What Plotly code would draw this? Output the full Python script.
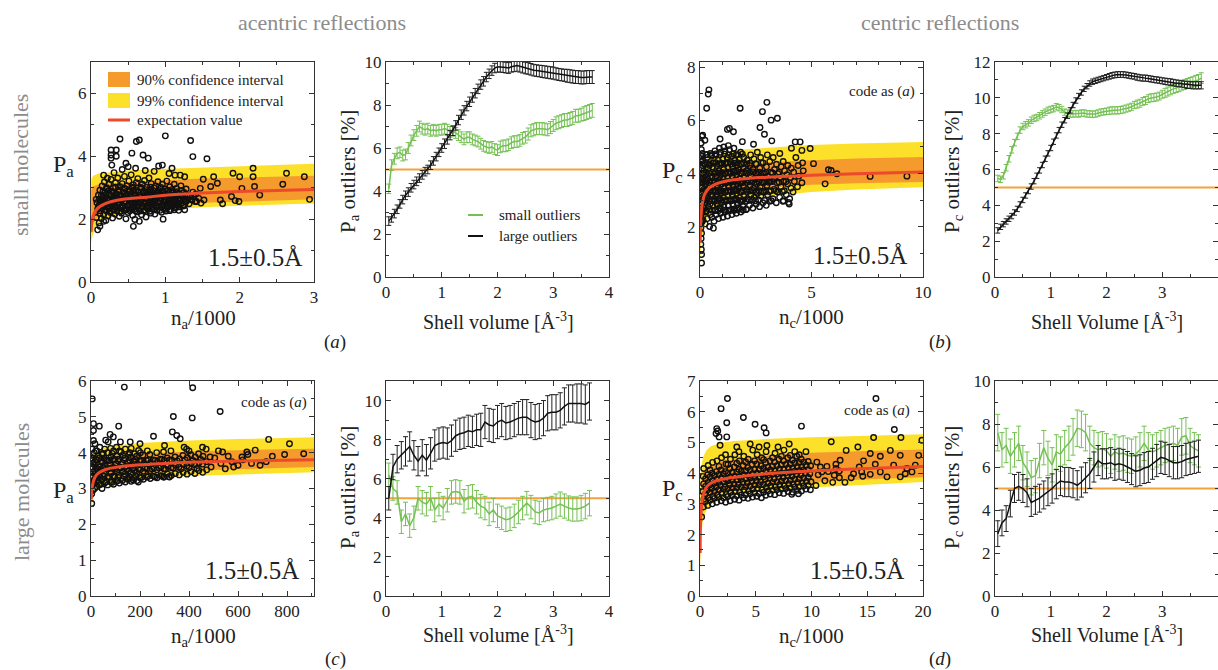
import plotly.graph_objects as go

W, H = 1218, 670
FONT = "Liberation Serif, Times New Roman, serif"
YELLOW = "#fde02a"
ORANGE = "#f59a2c"
RED = "#ec4a2a"
GREEN = "#74c053"
HLINE = "#f5a23a"
AXC = "#333333"

# ---------------- band / expectation data ----------------
A_BX = [0.003, 0.01, 0.03, 0.06, 0.1, 0.2, 0.35, 0.5, 0.75, 1.0, 1.5, 2.0, 2.5, 3.0]
A_EXP = [1.6, 1.9, 2.1, 2.25, 2.37, 2.5, 2.6, 2.65, 2.7, 2.76, 2.83, 2.88, 2.91, 2.94]
A_99U = [3.2, 3.3, 3.38, 3.42, 3.45, 3.48, 3.52, 3.55, 3.58, 3.6, 3.65, 3.69, 3.72, 3.76]
A_99L = [1.2, 1.35, 1.55, 1.72, 1.85, 2.02, 2.14, 2.2, 2.27, 2.32, 2.38, 2.43, 2.47, 2.5]
A_90U = [2.9, 3.0, 3.05, 3.08, 3.1, 3.13, 3.16, 3.18, 3.21, 3.24, 3.29, 3.32, 3.35, 3.38]
A_90L = [1.5, 1.7, 1.85, 1.98, 2.08, 2.2, 2.3, 2.36, 2.42, 2.46, 2.52, 2.56, 2.6, 2.63]

B_BX = [0.005, 0.02, 0.05, 0.1, 0.2, 0.4, 0.7, 1, 1.5, 2, 3, 5, 7, 10]
B_EXP = [1.4, 1.9, 2.45, 2.85, 3.2, 3.45, 3.6, 3.68, 3.76, 3.8, 3.86, 3.93, 3.99, 4.06]
B_99U = [3.4, 3.8, 4.1, 4.3, 4.45, 4.6, 4.7, 4.77, 4.85, 4.9, 4.97, 5.07, 5.13, 5.19]
B_99L = [0.5, 0.9, 1.3, 1.65, 2.0, 2.4, 2.7, 2.85, 3.0, 3.08, 3.17, 3.3, 3.4, 3.48]
B_90U = [2.5, 3.0, 3.3, 3.55, 3.75, 3.95, 4.1, 4.18, 4.28, 4.34, 4.42, 4.5, 4.56, 4.62]
B_90L = [0.9, 1.4, 1.8, 2.1, 2.45, 2.8, 3.05, 3.17, 3.3, 3.37, 3.46, 3.58, 3.63, 3.68]

C_BX = [1, 5, 15, 30, 60, 100, 200, 300, 400, 600, 910]
C_EXP = [2.7, 3.05, 3.3, 3.43, 3.53, 3.59, 3.66, 3.7, 3.73, 3.77, 3.8]
C_99U = [3.6, 3.85, 4.0, 4.08, 4.15, 4.2, 4.27, 4.31, 4.34, 4.38, 4.43]
C_99L = [2.3, 2.6, 2.85, 3.0, 3.1, 3.17, 3.26, 3.31, 3.35, 3.4, 3.45]
C_90U = [3.2, 3.5, 3.7, 3.8, 3.87, 3.92, 3.98, 4.01, 4.03, 4.07, 4.11]
C_90L = [2.5, 2.8, 3.05, 3.18, 3.28, 3.34, 3.42, 3.47, 3.5, 3.55, 3.6]

D_BX = [0.02, 0.1, 0.3, 0.6, 1, 2, 3, 5, 7.5, 10, 15, 20]
D_EXP = [1.4, 2.8, 3.3, 3.55, 3.68, 3.8, 3.86, 3.95, 4.02, 4.07, 4.15, 4.22]
D_99U = [3.7, 4.2, 4.55, 4.75, 4.88, 5.0, 5.05, 5.1, 5.14, 5.17, 5.22, 5.27]
D_99L = [0.8, 2.0, 2.55, 2.8, 3.0, 3.18, 3.27, 3.38, 3.47, 3.53, 3.63, 3.71]
D_90U = [2.6, 3.6, 4.0, 4.15, 4.25, 4.38, 4.45, 4.54, 4.61, 4.66, 4.72, 4.77]
D_90L = [1.0, 2.3, 2.8, 3.05, 3.2, 3.38, 3.47, 3.57, 3.65, 3.7, 3.8, 3.87]

# ---------------- scatter points (n/1000, P) ----------------
A_PTS = [
    (0.39, 4.55), (0.61, 4.47), (0.65, 4.52), (1.00, 4.65), (1.34, 4.50), (1.37, 3.99), (1.56, 3.92),
    (0.27, 4.20), (0.34, 4.20), (0.27, 4.04), (0.34, 4.00), (0.27, 3.94), (0.28, 3.72), (0.17, 3.40),
    (0.55, 4.10), (0.70, 4.04), (0.77, 3.94), (0.47, 3.78), (0.50, 3.67), (0.91, 3.69), (0.96, 3.72),
    (1.09, 3.62), (1.13, 3.40), (1.20, 3.40), (1.26, 3.35), (0.07, 2.63), (0.09, 1.66), (0.12, 1.77),
    (0.17, 1.93), (0.57, 1.77), (0.65, 1.93), (0.97, 2.00), (1.26, 2.30),
    (1.38, 2.72), (1.47, 2.98), (1.52, 2.61), (1.65, 3.35), (1.70, 3.14), (1.74, 2.61), (1.77, 2.49),
    (1.89, 2.72), (1.91, 3.46), (1.94, 2.59), (1.99, 2.56), (2.00, 3.35), (2.03, 2.98), (2.18, 3.62),
    (2.18, 3.35), (2.20, 3.04), (2.27, 2.77), (2.58, 3.11), (2.63, 3.46), (2.94, 2.63), (2.87, 3.35),
    (1.51, 3.27), (1.61, 3.04), (1.42, 2.56), (1.48, 2.51),
    (0.42, 3.58), (0.60, 3.62), (0.73, 3.55), (0.85, 3.52), (0.31, 3.48), (1.05, 3.45), (0.22, 3.30),
    (0.07, 2.05), (0.09, 2.32), (0.08, 2.52), (0.10, 2.76),
    (0.11, 1.88), (0.12, 2.18), (0.11, 2.44), (0.13, 2.63), (0.12, 2.92),
    (0.14, 2.02), (0.15, 2.36), (0.14, 2.56), (0.16, 2.71), (0.15, 3.06),
    (0.17, 2.14), (0.18, 2.41), (0.17, 2.61), (0.19, 2.86), (0.18, 3.18),
    (0.20, 1.96), (0.21, 2.26), (0.20, 2.49), (0.22, 2.67), (0.21, 2.96),
    (0.23, 2.11), (0.24, 2.34), (0.23, 2.58), (0.25, 2.79), (0.24, 3.11),
    (0.26, 2.21), (0.27, 2.46), (0.26, 2.64), (0.28, 2.88), (0.27, 3.26),
    (0.29, 2.04), (0.30, 2.31), (0.29, 2.53), (0.31, 2.73), (0.30, 2.99),
    (0.32, 2.16), (0.33, 2.39), (0.32, 2.61), (0.34, 2.81), (0.33, 3.16),
    (0.35, 2.26), (0.36, 2.48), (0.35, 2.69), (0.37, 2.93), (0.36, 3.31),
    (0.38, 2.09), (0.39, 2.37), (0.38, 2.55), (0.40, 2.76), (0.39, 3.03),
    (0.41, 2.19), (0.42, 2.43), (0.41, 2.62), (0.43, 2.86), (0.42, 3.13),
    (0.44, 2.29), (0.45, 2.51), (0.44, 2.71), (0.46, 2.96), (0.45, 3.36),
    (0.47, 2.01), (0.48, 2.34), (0.47, 2.57), (0.49, 2.79), (0.48, 3.06),
    (0.50, 2.21), (0.51, 2.45), (0.50, 2.66), (0.52, 2.89), (0.51, 3.21),
    (0.53, 2.31), (0.54, 2.53), (0.53, 2.73), (0.55, 2.99), (0.54, 3.41),
    (0.56, 2.12), (0.57, 2.38), (0.56, 2.61), (0.58, 2.81), (0.57, 3.09),
    (0.59, 1.99), (0.60, 2.27), (0.59, 2.49), (0.61, 2.69), (0.60, 2.91), (0.61, 3.16),
    (0.62, 2.23), (0.63, 2.46), (0.62, 2.67), (0.64, 2.87), (0.63, 3.29),
    (0.65, 2.36), (0.66, 2.56), (0.65, 2.76), (0.67, 3.01),
    (0.68, 2.14), (0.69, 2.41), (0.68, 2.63), (0.70, 2.84), (0.69, 3.11),
    (0.71, 2.26), (0.72, 2.49), (0.71, 2.71), (0.73, 2.94), (0.72, 3.23),
    (0.74, 2.07), (0.75, 2.36), (0.74, 2.58), (0.76, 2.79), (0.75, 3.01),
    (0.77, 2.31), (0.78, 2.52), (0.77, 2.73), (0.79, 2.91), (0.78, 3.31),
    (0.80, 2.19), (0.81, 2.44), (0.80, 2.66), (0.82, 2.86), (0.81, 3.13),
    (0.83, 2.33), (0.84, 2.56), (0.83, 2.77), (0.85, 2.99),
    (0.86, 2.16), (0.87, 2.41), (0.86, 2.62), (0.88, 2.83), (0.87, 3.06),
    (0.89, 2.28), (0.90, 2.51), (0.89, 2.71), (0.91, 2.91), (0.90, 3.19),
    (0.92, 2.39), (0.93, 2.58), (0.92, 2.79), (0.94, 3.01),
    (0.95, 2.22), (0.96, 2.46), (0.95, 2.66), (0.97, 2.87), (0.96, 3.11),
    (0.98, 2.34), (0.99, 2.54), (0.98, 2.75), (1.00, 2.96),
    (1.01, 2.26), (1.02, 2.48), (1.01, 2.71), (1.03, 2.91), (1.02, 3.21),
    (1.04, 2.41), (1.05, 2.61), (1.04, 2.81), (1.06, 3.03),
    (1.07, 2.31), (1.08, 2.53), (1.07, 2.74), (1.09, 2.94),
    (1.10, 2.43), (1.11, 2.63), (1.10, 2.83), (1.12, 3.11),
    (1.13, 2.36), (1.14, 2.57), (1.13, 2.78), (1.15, 2.98),
    (1.16, 2.46), (1.17, 2.66), (1.16, 2.87),
    (1.19, 2.39), (1.20, 2.61), (1.19, 2.81), (1.21, 3.06),
    (1.22, 2.51), (1.23, 2.71), (1.22, 2.91),
    (1.25, 2.43), (1.26, 2.65), (1.25, 2.85),
    (1.28, 2.56), (1.29, 2.76), (1.28, 2.96),
    (1.32, 2.49), (1.33, 2.71), (1.36, 2.61), (1.37, 2.86),
    (1.40, 2.56), (1.41, 2.79), (1.45, 2.66),
]
A_CORE = [
    (0.12, 2.27), (0.19, 2.30), (0.25, 2.26), (0.31, 2.29), (0.40, 2.25), (0.46, 2.30), (0.52, 2.27),
    (0.58, 2.31), (0.66, 2.26), (0.73, 2.29), (0.79, 2.25), (0.85, 2.30), (0.93, 2.28), (0.99, 2.31),
    (1.06, 2.27), (1.12, 2.30), (1.18, 2.28),
    (0.10, 2.39), (0.16, 2.42), (0.22, 2.38), (0.28, 2.41), (0.34, 2.37), (0.43, 2.40), (0.49, 2.43),
    (0.55, 2.38), (0.61, 2.41), (0.70, 2.39), (0.76, 2.42), (0.82, 2.37), (0.88, 2.40), (0.96, 2.43),
    (1.03, 2.38), (1.09, 2.41), (1.15, 2.39), (1.24, 2.42),
    (0.13, 2.51), (0.18, 2.54), (0.24, 2.50), (0.30, 2.53), (0.37, 2.49), (0.45, 2.52), (0.52, 2.55),
    (0.58, 2.50), (0.64, 2.53), (0.71, 2.51), (0.78, 2.54), (0.84, 2.49), (0.91, 2.52), (0.97, 2.55),
    (1.05, 2.50), (1.11, 2.53), (1.18, 2.51), (1.27, 2.54),
    (0.11, 2.63), (0.17, 2.66), (0.23, 2.62), (0.29, 2.65), (0.36, 2.61), (0.42, 2.64), (0.48, 2.67),
    (0.55, 2.62), (0.62, 2.65), (0.68, 2.63), (0.75, 2.66), (0.81, 2.61), (0.88, 2.64), (0.94, 2.67),
    (1.00, 2.62), (1.08, 2.65), (1.14, 2.63), (1.21, 2.66), (1.30, 2.62),
    (0.14, 2.75), (0.20, 2.78), (0.27, 2.74), (0.33, 2.77), (0.40, 2.73), (0.47, 2.76), (0.53, 2.79),
    (0.60, 2.74), (0.66, 2.77), (0.72, 2.75), (0.79, 2.78), (0.86, 2.73), (0.92, 2.76), (0.99, 2.79),
    (1.06, 2.74), (1.13, 2.77), (1.20, 2.75),
    (0.16, 2.87), (0.23, 2.90), (0.30, 2.86), (0.38, 2.89), (0.44, 2.85), (0.51, 2.88), (0.57, 2.91),
    (0.64, 2.86), (0.71, 2.89), (0.77, 2.87), (0.84, 2.90), (0.90, 2.85), (0.97, 2.88), (1.04, 2.91),
    (1.11, 2.86),
    (0.21, 3.00), (0.33, 3.02), (0.45, 2.98), (0.56, 3.01), (0.68, 2.99), (0.80, 3.02), (0.93, 2.98),
]

B_PTS = [
    (0.40, 7.15), (0.37, 6.99), (0.30, 6.46), (1.80, 6.46), (3.00, 6.68), (2.80, 6.33), (3.19, 6.01),
    (3.47, 6.08), (2.69, 5.73), (2.89, 5.48), (0.12, 5.44), (0.22, 5.25), (1.32, 5.70), (1.50, 5.57),
    (1.23, 5.66), (3.22, 5.23), (4.27, 5.19), (4.49, 5.19), (4.94, 4.94), (4.57, 4.87), (5.09, 4.37),
    (5.76, 4.14), (5.88, 4.11), (6.14, 3.99), (7.63, 3.89), (9.28, 3.90), (5.61, 3.61), (3.74, 2.97),
    (3.97, 2.91), (0.60, 1.94), (0.07, 0.95), (0.07, 0.63), (0.04, 1.33), (0.06, 1.14),
    (4.10, 4.95), (4.30, 4.60), (4.60, 4.40), (4.00, 2.85), (0.90, 5.30), (1.90, 5.20), (2.40, 5.10),
    (0.05, 1.55), (0.07, 1.75), (0.04, 1.95), (0.06, 2.15), (0.03, 2.35), (0.08, 2.50), (0.05, 2.70),
    (0.07, 2.90), (0.04, 3.10), (0.09, 3.25), (0.06, 3.45), (0.03, 3.65), (0.08, 3.80), (0.05, 4.00),
    (0.07, 4.20), (0.04, 4.45), (0.09, 4.65), (0.06, 4.90), (0.05, 5.15), (0.08, 5.40), (0.10, 2.20),
    (0.11, 2.60), (0.12, 3.00), (0.10, 3.50), (0.12, 3.90), (0.11, 4.30), (0.10, 4.75),
    (0.13, 2.25), (0.17, 2.70), (0.15, 3.05), (0.18, 3.40), (0.14, 3.75), (0.16, 4.10), (0.12, 4.50),
    (0.23, 2.10), (0.27, 2.55), (0.25, 2.90), (0.28, 3.25), (0.24, 3.60), (0.26, 3.95), (0.22, 4.35), (0.27, 4.70),
    (0.33, 2.30), (0.37, 2.75), (0.35, 3.10), (0.38, 3.45), (0.34, 3.80), (0.36, 4.20), (0.32, 4.60),
    (0.43, 2.00), (0.47, 2.45), (0.45, 2.85), (0.48, 3.20), (0.44, 3.55), (0.46, 3.90), (0.42, 4.30), (0.47, 4.75),
    (0.53, 2.35), (0.57, 2.80), (0.55, 3.15), (0.58, 3.50), (0.54, 3.85), (0.56, 4.25), (0.52, 4.65),
    (0.63, 2.20), (0.67, 2.60), (0.65, 2.95), (0.68, 3.30), (0.64, 3.65), (0.66, 4.00), (0.62, 4.40), (0.67, 4.85),
    (0.73, 2.45), (0.77, 2.85), (0.75, 3.20), (0.78, 3.55), (0.74, 3.90), (0.76, 4.30), (0.72, 4.70),
    (0.83, 2.30), (0.87, 2.70), (0.85, 3.05), (0.88, 3.40), (0.84, 3.75), (0.86, 4.10), (0.82, 4.50), (0.87, 4.95),
    (0.93, 2.50), (0.97, 2.90), (0.95, 3.25), (0.98, 3.60), (0.94, 3.95), (0.96, 4.35), (0.92, 4.80),
    (1.03, 2.35), (1.07, 2.75), (1.05, 3.10), (1.08, 3.45), (1.04, 3.80), (1.06, 4.15), (1.02, 4.55), (1.07, 5.00),
    (1.13, 2.55), (1.17, 2.95), (1.15, 3.30), (1.18, 3.65), (1.14, 4.00), (1.16, 4.40), (1.12, 4.85),
    (1.23, 2.40), (1.27, 2.80), (1.25, 3.15), (1.28, 3.50), (1.24, 3.85), (1.26, 4.20), (1.22, 4.60), (1.27, 5.05),
    (1.33, 2.60), (1.37, 3.00), (1.35, 3.35), (1.38, 3.70), (1.34, 4.05), (1.36, 4.45), (1.32, 4.90),
    (1.43, 2.45), (1.47, 2.85), (1.45, 3.20), (1.48, 3.55), (1.44, 3.90), (1.46, 4.25), (1.42, 4.65),
    (1.53, 2.65), (1.57, 3.05), (1.55, 3.40), (1.58, 3.75), (1.54, 4.10), (1.56, 4.50), (1.52, 4.95),
    (1.63, 2.50), (1.67, 2.90), (1.65, 3.25), (1.68, 3.60), (1.64, 3.95), (1.66, 4.30), (1.62, 4.70),
    (1.73, 2.70), (1.77, 3.10), (1.75, 3.45), (1.78, 3.80), (1.74, 4.15), (1.76, 4.55),
    (1.83, 2.55), (1.87, 2.95), (1.85, 3.30), (1.88, 3.65), (1.84, 4.00), (1.86, 4.35), (1.82, 4.80),
    (1.93, 2.75), (1.97, 3.15), (1.95, 3.50), (1.98, 3.85), (1.94, 4.20), (1.96, 4.60),
    (2.07, 2.65), (2.13, 3.05), (2.10, 3.40), (2.14, 3.75), (2.08, 4.10), (2.12, 4.50),
    (2.22, 2.80), (2.28, 3.20), (2.25, 3.55), (2.29, 3.90), (2.23, 4.30), (2.27, 4.70),
    (2.37, 2.70), (2.43, 3.10), (2.40, 3.45), (2.44, 3.80), (2.38, 4.15), (2.42, 4.55),
    (2.52, 2.85), (2.58, 3.25), (2.55, 3.60), (2.59, 3.95), (2.53, 4.35), (2.57, 4.80),
    (2.67, 2.75), (2.73, 3.15), (2.70, 3.50), (2.74, 3.85), (2.68, 4.20), (2.72, 4.60),
    (2.82, 2.90), (2.88, 3.30), (2.85, 3.65), (2.89, 4.00), (2.83, 4.40),
    (2.97, 2.80), (3.03, 3.20), (3.00, 3.55), (3.04, 3.90), (2.98, 4.25), (3.02, 4.70),
    (3.12, 2.95), (3.18, 3.35), (3.15, 3.70), (3.19, 4.05), (3.13, 4.45),
    (3.27, 3.05), (3.33, 3.40), (3.30, 3.80), (3.34, 4.15), (3.28, 4.60),
    (3.42, 2.90), (3.48, 3.30), (3.45, 3.65), (3.49, 4.00), (3.43, 4.35),
    (3.57, 3.10), (3.63, 3.50), (3.60, 3.85), (3.64, 4.25), (3.58, 4.75),
    (3.72, 2.95), (3.78, 3.35), (3.75, 3.70), (3.79, 4.10), (3.73, 4.45),
    (3.87, 3.20), (3.93, 3.60), (3.90, 3.95), (3.94, 4.30),
    (4.02, 3.05), (4.08, 3.45), (4.05, 3.85), (4.09, 4.20),
    (4.17, 3.30), (4.23, 3.70), (4.20, 4.05), (4.37, 3.50), (4.43, 3.90), (4.40, 4.30),
    (4.57, 3.65), (4.63, 4.10),
]
B_CORE = [
    (0.28, 2.60), (0.41, 2.64), (0.55, 2.61), (0.69, 2.63), (0.82, 2.60), (0.96, 2.65), (1.10, 2.62),
    (1.24, 2.60), (1.38, 2.64), (1.52, 2.61), (1.66, 2.63), (1.80, 2.66), (1.94, 2.62), (2.08, 2.64),
    (0.14, 2.97), (0.27, 3.00), (0.40, 2.96), (0.54, 2.99), (0.68, 3.01), (0.81, 2.96), (0.95, 2.99),
    (1.09, 2.97), (1.23, 3.00), (1.37, 2.96), (1.51, 2.99), (1.65, 3.01), (1.79, 2.97), (1.93, 3.00),
    (2.07, 2.96), (2.21, 2.99), (2.35, 3.01), (2.49, 2.97), (2.63, 3.00), (2.90, 2.98), (3.20, 2.97),
    (0.15, 3.32), (0.29, 3.35), (0.42, 3.31), (0.56, 3.34), (0.70, 3.36), (0.83, 3.31), (0.97, 3.34),
    (1.11, 3.32), (1.25, 3.35), (1.39, 3.31), (1.53, 3.34), (1.67, 3.36), (1.81, 3.32), (1.95, 3.35),
    (2.09, 3.31), (2.23, 3.34), (2.37, 3.36), (2.51, 3.32), (2.65, 3.35), (2.80, 3.31), (2.95, 3.34),
    (3.10, 3.32), (3.40, 3.35), (3.70, 3.32),
    (0.13, 3.67), (0.27, 3.70), (0.41, 3.66), (0.55, 3.69), (0.69, 3.71), (0.82, 3.66), (0.96, 3.69),
    (1.10, 3.67), (1.24, 3.70), (1.38, 3.66), (1.52, 3.69), (1.66, 3.71), (1.80, 3.67), (1.94, 3.70),
    (2.08, 3.66), (2.22, 3.69), (2.36, 3.71), (2.50, 3.67), (2.64, 3.70), (2.79, 3.66), (2.94, 3.69),
    (3.09, 3.67), (3.25, 3.70), (3.55, 3.67), (3.85, 3.69),
    (0.14, 4.02), (0.28, 4.05), (0.42, 4.01), (0.56, 4.04), (0.70, 4.06), (0.83, 4.01), (0.97, 4.04),
    (1.11, 4.02), (1.25, 4.05), (1.39, 4.01), (1.53, 4.04), (1.67, 4.06), (1.81, 4.02), (1.95, 4.05),
    (2.09, 4.01), (2.23, 4.04), (2.37, 4.06), (2.51, 4.02), (2.65, 4.05), (2.80, 4.01), (2.95, 4.04),
    (3.25, 4.02), (3.55, 4.05),
    (0.15, 4.37), (0.29, 4.40), (0.43, 4.36), (0.57, 4.39), (0.71, 4.41), (0.84, 4.36), (0.98, 4.39),
    (1.12, 4.37), (1.26, 4.40), (1.40, 4.36), (1.54, 4.39), (1.68, 4.41), (1.82, 4.37), (1.96, 4.40),
    (2.10, 4.36), (2.24, 4.39), (2.50, 4.37), (2.75, 4.40),
    (0.30, 4.72), (0.50, 4.70), (0.70, 4.74), (0.90, 4.71), (1.10, 4.73), (1.30, 4.70), (1.50, 4.74),
    (1.70, 4.71), (1.90, 4.73),
]

C_PTS = [
    (5, 5.50), (136, 5.83), (415, 5.81), (527, 5.15), (413, 4.97), (336, 5.01), (34, 4.74), (113, 4.74),
    (78, 4.51), (91, 4.44), (332, 4.58), (350, 4.48), (364, 4.39), (255, 4.46), (10, 4.81), (10, 4.62),
    (10, 4.34), (725, 4.37), (810, 4.25), (868, 3.97), (690, 3.65), (582, 3.60), (616, 3.88), (670, 4.07),
    (636, 4.02), (537, 4.02), (486, 3.88), (296, 3.32), (320, 3.32), (173, 3.23), (193, 3.18), (3, 2.58),
    (490, 3.60), (505, 3.85), (520, 4.05), (530, 3.70), (548, 3.55), (560, 3.90), (575, 3.75), (600, 3.65),
    (620, 3.80), (640, 3.95), (655, 3.70), (715, 3.75), (740, 3.90), (790, 3.95), (455, 4.15), (470, 4.10),
    (380, 4.15), (300, 4.20), (160, 4.30), (120, 4.30), (60, 4.35), (200, 4.25), (400, 4.05),
    (3, 2.85), (4, 3.10), (2, 3.35), (5, 3.60), (3, 3.85), (4, 4.10),
    (8, 2.95), (9, 3.20), (7, 3.45), (8, 3.70), (9, 3.95),
    (15, 3.00), (14, 3.25), (16, 3.50), (15, 3.75), (13, 4.00), (16, 4.25),
    (24, 3.05), (25, 3.30), (23, 3.55), (26, 3.80), (24, 4.05),
    (34, 3.10), (33, 3.35), (35, 3.60), (34, 3.85), (36, 4.15),
    (45, 3.00), (46, 3.25), (44, 3.50), (47, 3.72), (45, 3.95),
    (56, 3.15), (55, 3.40), (57, 3.62), (54, 3.85), (56, 4.10),
    (68, 3.10), (67, 3.32), (69, 3.55), (66, 3.78), (68, 4.00), (70, 4.30),
    (80, 3.18), (81, 3.42), (79, 3.65), (82, 3.88), (80, 4.12),
    (92, 3.12), (91, 3.35), (93, 3.58), (90, 3.80), (92, 4.05),
    (104, 3.20), (105, 3.45), (103, 3.68), (106, 3.90), (104, 4.15),
    (116, 3.15), (115, 3.38), (117, 3.60), (114, 3.82), (116, 4.05),
    (128, 3.22), (129, 3.46), (127, 3.70), (130, 3.92),
    (140, 3.18), (139, 3.40), (141, 3.62), (138, 3.85), (140, 4.10),
    (152, 3.25), (153, 3.48), (151, 3.72), (154, 3.95),
    (164, 3.20), (163, 3.42), (165, 3.65), (162, 3.88), (164, 4.12),
    (176, 3.28), (177, 3.50), (175, 3.74), (178, 3.97),
    (188, 3.22), (187, 3.45), (189, 3.68), (186, 3.90),
    (200, 3.30), (201, 3.52), (199, 3.76), (202, 4.00),
    (214, 3.26), (213, 3.48), (215, 3.70), (212, 3.93),
    (228, 3.32), (229, 3.55), (227, 3.78), (230, 4.05),
    (242, 3.28), (241, 3.50), (243, 3.72), (240, 3.95),
    (256, 3.34), (257, 3.57), (255, 3.80),
    (270, 3.30), (269, 3.52), (271, 3.75), (268, 4.00),
    (284, 3.36), (285, 3.60), (283, 3.82),
    (298, 3.32), (297, 3.55), (299, 3.78), (296, 4.02),
    (312, 3.40), (313, 3.62), (311, 3.85),
    (328, 3.36), (327, 3.58), (329, 3.80), (326, 4.05),
    (344, 3.42), (345, 3.65), (343, 3.88),
    (360, 3.38), (359, 3.60), (361, 3.83),
    (376, 3.45), (377, 3.68), (375, 3.92),
    (392, 3.40), (391, 3.63), (393, 3.86), (390, 4.10),
    (408, 3.47), (409, 3.70), (407, 3.94),
    (424, 3.42), (423, 3.66), (425, 3.88),
    (440, 3.50), (441, 3.72), (439, 3.97),
    (456, 3.45), (455, 3.68), (457, 3.90),
    (472, 3.52), (471, 3.75),
]
C_CORE = [
    (6, 3.32), (20, 3.35), (38, 3.31), (52, 3.34), (74, 3.33), (96, 3.35), (110, 3.31), (134, 3.34),
    (158, 3.32), (182, 3.35), (206, 3.31), (234, 3.34), (262, 3.32), (290, 3.35), (318, 3.33),
    (4, 3.55), (19, 3.58), (30, 3.54), (50, 3.57), (62, 3.55), (86, 3.58), (98, 3.54), (122, 3.57),
    (146, 3.55), (170, 3.58), (194, 3.54), (220, 3.57), (248, 3.55), (276, 3.58), (304, 3.54),
    (336, 3.57), (368, 3.55), (400, 3.58), (432, 3.56),
    (6, 3.78), (20, 3.81), (40, 3.77), (60, 3.80), (74, 3.78), (98, 3.81), (110, 3.77), (134, 3.80),
    (158, 3.78), (182, 3.81), (206, 3.77), (234, 3.80), (262, 3.78), (290, 3.81), (320, 3.79),
    (352, 3.77), (384, 3.80), (416, 3.78), (448, 3.81),
    (12, 3.15), (28, 3.18), (40, 3.12), (62, 3.19), (86, 3.17), (110, 3.22), (146, 3.27),
    (20, 4.05), (50, 3.98), (86, 3.98), (122, 4.02), (158, 4.00), (194, 4.06),
]

D_PTS = [
    (2.46, 6.43), (1.89, 6.10), (3.89, 5.81), (4.94, 5.59), (5.75, 5.48), (5.93, 5.31), (2.40, 5.64),
    (2.40, 5.18), (1.50, 5.45), (1.59, 5.37), (1.44, 5.29), (1.71, 5.18), (1.80, 4.91), (9.10, 5.53),
    (15.78, 6.43), (17.43, 5.42), (18.02, 5.16), (11.77, 5.02), (15.57, 5.16), (19.90, 5.07), (0.15, 2.57),
    (8.23, 3.31), (8.83, 3.33),
    (12.57, 4.42), (13.77, 3.98), (14.50, 4.04), (15.27, 3.96), (16.17, 4.04), (16.77, 3.88), (17.37, 4.26),
    (17.96, 4.58), (18.56, 4.15), (19.31, 4.26), (19.61, 4.58), (13.11, 4.74), (14.16, 4.85), (15.27, 4.64),
    (16.17, 4.55), (17.07, 4.74), (13.56, 3.85), (14.28, 4.20), (12.49, 4.07), (12.04, 3.93), (11.38, 4.22),
    (10.93, 4.04), (10.48, 4.36), (12.19, 4.29), (14.67, 4.40), (15.72, 4.29), (18.41, 3.98), (19.01, 4.04),
    (17.96, 3.88), (10.4, 3.60), (10.6, 3.95), (10.8, 4.20), (11.2, 3.75), (11.5, 4.05), (11.9, 3.70),
    (12.2, 4.15), (12.5, 3.85), (13.0, 3.70), (14.6, 3.90),
    (3.3, 4.85), (4.5, 4.95), (6.0, 4.90), (7.0, 4.85), (8.0, 4.95), (8.5, 4.70), (5.3, 4.85), (9.5, 4.70),
    (0.3, 2.90), (0.35, 3.15), (0.25, 3.40), (0.32, 3.65), (0.28, 3.90), (0.33, 4.15),
    (0.7, 2.95), (0.75, 3.20), (0.65, 3.45), (0.72, 3.70), (0.68, 3.95), (0.73, 4.25),
    (1.1, 3.00), (1.15, 3.25), (1.05, 3.50), (1.12, 3.75), (1.08, 4.00), (1.13, 4.35),
    (1.5, 3.05), (1.55, 3.30), (1.45, 3.55), (1.52, 3.80), (1.48, 4.05), (1.53, 4.40),
    (1.9, 3.10), (1.95, 3.35), (1.85, 3.60), (1.92, 3.85), (1.88, 4.10), (1.93, 4.50),
    (2.3, 3.05), (2.35, 3.30), (2.25, 3.55), (2.32, 3.80), (2.28, 4.05), (2.33, 4.30), (2.29, 4.60),
    (2.7, 3.10), (2.75, 3.38), (2.65, 3.62), (2.72, 3.88), (2.68, 4.15), (2.73, 4.45),
    (3.1, 3.15), (3.15, 3.40), (3.05, 3.65), (3.12, 3.90), (3.08, 4.20), (3.13, 4.60),
    (3.5, 3.12), (3.55, 3.38), (3.45, 3.63), (3.52, 3.88), (3.48, 4.12), (3.53, 4.40), (3.49, 4.70),
    (3.9, 3.20), (3.95, 3.45), (3.85, 3.70), (3.92, 3.95), (3.88, 4.25), (3.93, 4.55),
    (4.3, 3.18), (4.35, 3.42), (4.25, 3.68), (4.32, 3.93), (4.28, 4.18), (4.33, 4.45),
    (4.7, 3.22), (4.75, 3.48), (4.65, 3.73), (4.72, 3.98), (4.68, 4.28), (4.73, 4.75),
    (5.1, 3.25), (5.15, 3.50), (5.05, 3.75), (5.12, 4.00), (5.08, 4.30), (5.13, 4.60),
    (5.5, 3.20), (5.55, 3.46), (5.45, 3.72), (5.52, 3.98), (5.48, 4.24), (5.53, 4.50),
    (5.9, 3.28), (5.95, 3.54), (5.85, 3.80), (5.92, 4.06), (5.88, 4.35), (5.93, 4.70),
    (6.3, 3.32), (6.35, 3.58), (6.25, 3.84), (6.32, 4.10), (6.28, 4.40),
    (6.7, 3.30), (6.75, 3.56), (6.65, 3.82), (6.72, 4.08), (6.68, 4.36), (6.73, 4.65),
    (7.1, 3.36), (7.15, 3.62), (7.05, 3.88), (7.12, 4.14), (7.08, 4.45),
    (7.5, 3.34), (7.55, 3.60), (7.45, 3.86), (7.52, 4.12), (7.48, 4.40), (7.53, 4.75),
    (7.9, 3.40), (7.95, 3.66), (7.85, 3.92), (7.92, 4.18), (7.88, 4.50),
    (8.3, 3.38), (8.35, 3.64), (8.25, 3.90), (8.32, 4.16), (8.28, 4.42),
    (8.7, 3.44), (8.75, 3.70), (8.65, 3.96), (8.72, 4.22), (8.68, 4.55),
    (9.1, 3.42), (9.15, 3.68), (9.05, 3.94), (9.12, 4.20), (9.08, 4.45),
    (9.5, 3.48), (9.55, 3.74), (9.45, 4.00), (9.52, 4.26),
    (9.9, 3.46), (9.95, 3.72), (9.85, 3.98), (9.92, 4.24),
]
D_CORE = [
    (0.5, 3.08), (0.9, 3.12), (1.3, 3.18), (1.7, 3.22), (2.1, 3.20), (2.5, 3.24), (2.9, 3.27), (3.3, 3.26),
    (3.7, 3.29), (4.1, 3.30), (4.5, 3.33), (4.9, 3.36), (5.3, 3.34), (5.7, 3.38), (6.1, 3.42), (6.5, 3.44),
    (6.9, 3.46), (7.3, 3.48), (7.7, 3.50), (8.1, 3.52), (8.5, 3.55), (8.9, 3.56), (9.3, 3.58), (9.7, 3.60),
    (0.5, 3.32), (0.9, 3.37), (1.3, 3.42), (1.7, 3.46), (2.1, 3.48), (2.5, 3.50), (2.9, 3.52), (3.3, 3.53),
    (3.7, 3.55), (4.1, 3.56), (4.5, 3.58), (4.9, 3.61), (5.3, 3.62), (5.7, 3.63), (6.1, 3.67), (6.5, 3.70),
    (6.9, 3.71), (7.3, 3.74), (7.7, 3.75), (8.1, 3.77), (8.5, 3.80), (8.9, 3.82), (9.3, 3.84), (9.7, 3.86),
    (0.5, 3.57), (0.9, 3.62), (1.3, 3.67), (1.7, 3.70), (2.1, 3.73), (2.5, 3.75), (2.9, 3.77), (3.3, 3.78),
    (3.7, 3.80), (4.1, 3.82), (4.5, 3.84), (4.9, 3.86), (5.3, 3.87), (5.7, 3.88), (6.1, 3.93), (6.5, 3.96),
    (6.9, 3.97), (7.3, 4.00), (7.7, 4.01), (8.1, 4.03), (8.5, 4.06), (8.9, 4.08), (9.3, 4.10), (9.7, 4.11),
    (0.5, 3.82), (0.9, 3.88), (1.3, 3.92), (1.7, 3.96), (2.1, 3.98), (2.5, 4.00), (2.9, 4.03), (3.3, 4.04),
    (3.7, 4.06), (4.1, 4.07), (4.5, 4.10), (4.9, 4.12), (5.3, 4.13), (5.7, 4.15), (6.1, 4.19), (6.5, 4.22),
    (6.9, 4.24), (7.3, 4.27), (7.7, 4.28), (8.1, 4.30), (8.5, 4.33), (8.9, 4.35), (9.3, 4.36), (9.7, 4.38),
    (0.9, 4.10), (1.7, 4.22), (2.5, 4.28), (3.3, 4.32), (4.1, 4.36), (4.9, 4.40), (5.7, 4.44), (6.5, 4.50),
    (7.3, 4.55), (8.1, 4.58), (8.9, 4.60),
]

# ---------------- outlier percentages vs shell volume ----------------
XS_SMALL = [0.05, 0.10, 0.15, 0.20, 0.25, 0.30, 0.35, 0.40, 0.45, 0.50, 0.55, 0.60, 0.65, 0.70, 0.75,
            0.80, 0.85, 0.90, 0.95, 1.00, 1.05, 1.10, 1.15, 1.20, 1.25, 1.30, 1.35, 1.40, 1.45, 1.50,
            1.55, 1.60, 1.65, 1.70, 1.75, 1.80, 1.85, 1.90, 1.95, 2.00, 2.05, 2.10, 2.15, 2.20, 2.25,
            2.30, 2.35, 2.40, 2.45, 2.50, 2.55, 2.60, 2.65, 2.70, 2.75, 2.80, 2.85, 2.90, 2.95, 3.00,
            3.05, 3.10, 3.15, 3.20, 3.25, 3.30, 3.35, 3.40, 3.45, 3.50, 3.55, 3.60, 3.65, 3.70]

A_BLK = [2.6, 2.75, 2.95, 3.15, 3.4, 3.6, 3.8, 3.95, 4.15, 4.3, 4.45, 4.6, 4.75, 4.9, 5.0,
         5.2, 5.4, 5.6, 5.8, 6.0, 6.2, 6.4, 6.6, 6.8, 7.05, 7.3, 7.55, 7.75, 7.95, 8.15,
         8.35, 8.55, 8.75, 8.95, 9.1, 9.3, 9.45, 9.6, 9.72, 9.78, 9.78, 9.76, 9.74, 9.72, 9.78,
         9.82, 9.84, 9.8, 9.76, 9.72, 9.7, 9.66, 9.62, 9.6, 9.58, 9.56, 9.54, 9.52, 9.5, 9.48,
         9.45, 9.42, 9.4, 9.38, 9.36, 9.34, 9.32, 9.3, 9.3, 9.28, 9.28, 9.3, 9.3, 9.3]
A_BLK_ERR = [0.2, 0.2, 0.2, 0.2, 0.2, 0.2, 0.2, 0.2, 0.2, 0.2, 0.2, 0.2, 0.2, 0.2, 0.2,
             0.2, 0.2, 0.2, 0.2, 0.2, 0.22, 0.22, 0.22, 0.22, 0.22, 0.22, 0.22, 0.22, 0.22, 0.22,
             0.22, 0.22, 0.22, 0.22, 0.22, 0.22, 0.22, 0.22, 0.22, 0.25, 0.25, 0.25, 0.25, 0.25, 0.25,
             0.27, 0.27, 0.27, 0.27, 0.27, 0.27, 0.27, 0.27, 0.27, 0.27, 0.28, 0.28, 0.28, 0.28, 0.28,
             0.28, 0.28, 0.28, 0.28, 0.3, 0.3, 0.3, 0.3, 0.3, 0.3, 0.3, 0.3, 0.3, 0.3]
A_GRN = [4.1, 5.2, 5.5, 5.75, 5.8, 5.65, 5.7, 6.0, 6.35, 6.6, 6.8, 7.0, 6.9, 6.85, 6.9,
         6.8, 6.85, 6.8, 6.85, 6.85, 6.9, 6.85, 6.75, 6.8, 6.7, 6.6, 6.5, 6.4, 6.5, 6.5,
         6.4, 6.35, 6.3, 6.2, 6.1, 6.05, 6.0, 6.05, 5.95, 5.9, 6.05, 6.1, 6.1, 6.15, 6.25,
         6.3, 6.3, 6.35, 6.45, 6.5, 6.65, 6.8, 6.85, 6.9, 6.9, 6.9, 6.88, 6.85, 6.95, 7.05,
         7.15, 7.2, 7.25, 7.3, 7.3, 7.35, 7.4, 7.5, 7.5, 7.55, 7.6, 7.65, 7.7, 7.75]
A_GRN_ERR = [0.22, 0.25, 0.25, 0.25, 0.25, 0.25, 0.25, 0.25, 0.25, 0.25, 0.25, 0.25, 0.25, 0.25, 0.25,
             0.25, 0.25, 0.25, 0.25, 0.25, 0.25, 0.25, 0.25, 0.25, 0.25, 0.25, 0.25, 0.25, 0.25, 0.25,
             0.25, 0.25, 0.25, 0.25, 0.25, 0.25, 0.25, 0.25, 0.25, 0.25, 0.27, 0.27, 0.27, 0.27, 0.27,
             0.27, 0.27, 0.27, 0.27, 0.27, 0.28, 0.28, 0.28, 0.28, 0.28, 0.28, 0.28, 0.28, 0.28, 0.28,
             0.3, 0.3, 0.3, 0.3, 0.3, 0.3, 0.3, 0.3, 0.3, 0.3, 0.32, 0.32, 0.32, 0.32]

B_BLK = [2.6, 2.8, 2.95, 3.1, 3.25, 3.4, 3.6, 3.8, 4.05, 4.3, 4.55, 4.8, 5.05, 5.35, 5.65,
         5.95, 6.25, 6.6, 6.9, 7.2, 7.55, 7.9, 8.2, 8.5, 8.75, 9.0, 9.3, 9.6, 9.85, 10.1,
         10.3, 10.5, 10.65, 10.8, 10.9, 10.95, 11.0, 11.05, 11.1, 11.15, 11.2, 11.25, 11.28, 11.3, 11.3,
         11.3, 11.28, 11.25, 11.22, 11.2, 11.15, 11.12, 11.1, 11.1, 11.08, 11.05, 11.02, 11.0, 10.98, 10.95,
         10.92, 10.9, 10.88, 10.85, 10.82, 10.8, 10.78, 10.75, 10.72, 10.72, 10.7, 10.7, 10.7, 10.7]
B_BLK_ERR = [0.15, 0.15, 0.15, 0.15, 0.15, 0.15, 0.15, 0.15, 0.15, 0.15, 0.15, 0.15, 0.15, 0.15, 0.15,
             0.15, 0.15, 0.15, 0.15, 0.15, 0.15, 0.15, 0.15, 0.15, 0.15, 0.15, 0.15, 0.15, 0.15, 0.15,
             0.15, 0.15, 0.15, 0.15, 0.15, 0.15, 0.15, 0.15, 0.15, 0.15, 0.16, 0.16, 0.16, 0.16, 0.16,
             0.16, 0.16, 0.16, 0.16, 0.16, 0.17, 0.17, 0.17, 0.17, 0.17, 0.17, 0.17, 0.17, 0.17, 0.17,
             0.18, 0.18, 0.18, 0.18, 0.18, 0.18, 0.18, 0.18, 0.2, 0.2, 0.2, 0.2, 0.2, 0.2]
B_GRN = [5.5, 5.45, 5.65, 6.1, 6.6, 7.1, 7.5, 7.85, 8.2, 8.4, 8.5, 8.6, 8.75, 8.85, 8.9,
         9.0, 9.1, 9.2, 9.3, 9.35, 9.4, 9.5, 9.45, 9.35, 9.2, 9.15, 9.1, 9.1, 9.12, 9.1,
         9.15, 9.15, 9.1, 9.1, 9.08, 9.1, 9.15, 9.2, 9.22, 9.25, 9.28, 9.3, 9.3, 9.3, 9.32,
         9.35, 9.4, 9.45, 9.5, 9.6, 9.65, 9.7, 9.8, 9.85, 9.95, 10.0, 10.02, 10.05, 10.1, 10.2,
         10.28, 10.35, 10.42, 10.5, 10.55, 10.6, 10.68, 10.75, 10.8, 10.85, 10.9, 10.95, 11.0, 11.1]
B_GRN_ERR = [0.18, 0.18, 0.18, 0.18, 0.18, 0.18, 0.18, 0.18, 0.18, 0.18, 0.18, 0.18, 0.18, 0.18, 0.18,
             0.18, 0.18, 0.18, 0.18, 0.18, 0.18, 0.18, 0.18, 0.18, 0.18, 0.18, 0.18, 0.18, 0.18, 0.18,
             0.18, 0.18, 0.18, 0.18, 0.18, 0.18, 0.18, 0.18, 0.18, 0.18, 0.2, 0.2, 0.2, 0.2, 0.2,
             0.2, 0.2, 0.2, 0.2, 0.2, 0.22, 0.22, 0.22, 0.22, 0.22, 0.22, 0.22, 0.22, 0.22, 0.22,
             0.25, 0.25, 0.25, 0.25, 0.25, 0.25, 0.25, 0.28, 0.28, 0.28, 0.28, 0.3, 0.3, 0.3]

XS_LARGE = [0.05, 0.125, 0.2, 0.275, 0.35, 0.425, 0.5, 0.575, 0.65, 0.725, 0.8, 0.875, 0.95, 1.025,
            1.1, 1.175, 1.25, 1.325, 1.4, 1.475, 1.55, 1.625, 1.7, 1.775, 1.85, 1.925, 2.0, 2.075,
            2.15, 2.225, 2.3, 2.375, 2.45, 2.525, 2.6, 2.675, 2.75, 2.825, 2.9, 2.975, 3.05, 3.125,
            3.2, 3.275, 3.35, 3.425, 3.5, 3.575, 3.65]

C_BLK = [5.0, 6.6, 7.0, 7.2, 7.4, 7.65, 7.2, 6.9, 7.2, 6.95, 7.3, 7.7, 7.8, 7.85,
         7.8, 7.95, 8.2, 8.3, 8.35, 8.45, 8.4, 8.5, 8.5, 8.9, 8.75, 8.7, 8.9, 9.0,
         8.85, 8.9, 9.0, 9.1, 9.15, 9.15, 9.0, 8.9, 8.95, 9.1, 9.35, 9.4, 9.4, 9.5,
         9.7, 9.85, 9.85, 9.85, 9.85, 9.8, 9.95]
C_BLK_ERR = [0.6, 0.65, 0.7, 0.7, 0.75, 0.75, 0.75, 0.75, 0.8, 0.8, 0.8, 0.8, 0.8, 0.8,
             0.8, 0.8, 0.8, 0.8, 0.8, 0.8, 0.8, 0.8, 0.85, 0.85, 0.85, 0.85, 0.85, 0.85,
             0.85, 0.85, 0.85, 0.85, 0.9, 0.9, 0.9, 0.9, 0.9, 0.9, 0.9, 0.9, 0.9, 0.9,
             0.95, 0.95, 0.95, 1.0, 1.0, 1.0, 0.95]
C_GRN = [6.2, 5.5, 5.3, 3.8, 4.2, 3.6, 4.0, 5.0, 4.8, 4.7, 5.0, 4.4, 4.7, 4.5,
         4.9, 5.3, 5.35, 5.3, 4.85, 5.05, 5.1, 4.8, 4.6, 4.5, 4.2, 4.4, 4.1, 4.0,
         3.9, 3.95, 4.1, 4.3, 4.5, 4.75, 4.55, 4.3, 4.25, 4.4, 4.45, 4.5, 4.6, 4.7,
         4.6, 4.5, 4.45, 4.45, 4.5, 4.6, 4.75]
C_GRN_ERR = [0.6, 0.6, 0.6, 0.6, 0.6, 0.6, 0.6, 0.6, 0.6, 0.6, 0.6, 0.6, 0.6, 0.6,
             0.6, 0.6, 0.6, 0.6, 0.6, 0.6, 0.6, 0.6, 0.6, 0.6, 0.6, 0.6, 0.6, 0.6,
             0.6, 0.6, 0.6, 0.6, 0.6, 0.6, 0.6, 0.6, 0.6, 0.6, 0.6, 0.6, 0.62, 0.62,
             0.62, 0.62, 0.62, 0.62, 0.65, 0.65, 0.65]

D_BLK = [2.9, 3.4, 3.6, 4.3, 5.0, 5.1, 5.0, 4.8, 4.35, 4.45, 4.55, 4.7, 4.85, 5.0,
         5.2, 5.35, 5.3, 5.3, 5.25, 5.15, 5.3, 5.5, 5.7, 6.0, 6.3, 6.15, 6.15, 6.2,
         6.1, 6.15, 6.1, 6.0, 5.9, 5.8, 5.85, 5.95, 6.0, 6.15, 6.3, 6.45, 6.4, 6.3,
         6.2, 6.2, 6.25, 6.35, 6.4, 6.45, 6.5]
D_BLK_ERR = [0.6, 0.6, 0.6, 0.62, 0.65, 0.65, 0.65, 0.65, 0.65, 0.65, 0.65, 0.65, 0.65, 0.68,
             0.68, 0.68, 0.68, 0.68, 0.68, 0.68, 0.7, 0.7, 0.7, 0.7, 0.7, 0.7, 0.7, 0.7,
             0.72, 0.72, 0.72, 0.72, 0.72, 0.72, 0.72, 0.72, 0.72, 0.72, 0.75, 0.75, 0.75, 0.75,
             0.75, 0.75, 0.75, 0.75, 0.75, 0.75, 0.75]
D_GRN = [7.6, 6.8, 7.0, 6.5, 6.8, 7.1, 6.2, 5.9, 5.5, 5.6, 6.3, 6.9, 6.4, 6.1,
         6.7, 6.6, 6.9, 7.1, 7.4, 7.8, 7.75, 7.6, 7.1, 6.9, 6.8, 6.85, 6.75, 6.5,
         6.7, 6.6, 6.65, 6.55, 6.5, 6.6, 6.8, 7.1, 6.8, 6.7, 6.8, 6.9, 7.0, 7.05,
         7.1, 7.0, 7.4, 7.45, 7.0, 6.85, 6.75]
D_GRN_ERR = [0.85, 0.8, 0.8, 0.8, 0.8, 0.8, 0.8, 0.8, 0.8, 0.8, 0.8, 0.8, 0.8, 0.8,
             0.8, 0.8, 0.8, 0.8, 0.85, 0.85, 0.85, 0.85, 0.8, 0.8, 0.8, 0.8, 0.8, 0.8,
             0.8, 0.8, 0.8, 0.8, 0.8, 0.8, 0.8, 0.8, 0.8, 0.8, 0.8, 0.8, 0.8, 0.8,
             0.8, 0.8, 0.85, 0.85, 0.8, 0.75, 0.75]

REF_LEVEL = 5.0   # nominal 5 % line
SHELL_RANGE = [0, 4]

# ---------------- layout helpers ----------------
BOX = {1: (91, 314, 62, 282), 2: (386, 609, 62, 277), 3: (700, 923, 62, 277), 4: (995, 1218, 62, 277),
       5: (91, 314, 381, 596), 6: (386, 609, 381, 596), 7: (700, 923, 381, 596), 8: (995, 1218, 381, 596)}

AXES = {
    1: dict(xr=[0, 3], xdt=1, xm=0.5, yr=[0, 7], ydt=2, ym=1),
    2: dict(xr=[0, 4], xdt=1, xm=0.5, yr=[0, 10], ydt=2, ym=1),
    3: dict(xr=[0, 10], xdt=5, xm=1, yr=[0.1, 8.2], ydt=2, ym=1),
    4: dict(xr=[0, 4], xdt=1, xm=0.5, yr=[0, 12], ydt=2, ym=1, xtv=[0, 1, 2, 3]),
    5: dict(xr=[0, 910], xdt=200, xm=100, yr=[0, 6], ydt=1, ym=0.5),
    6: dict(xr=[0, 4], xdt=1, xm=0.5, yr=[0, 11], ydt=2, ym=1),
    7: dict(xr=[0, 20], xdt=5, xm=2.5, yr=[0, 7], ydt=1, ym=0.5),
    8: dict(xr=[0, 4], xdt=1, xm=0.5, yr=[0, 10], ydt=2, ym=1, xtv=[0, 1, 2, 3]),
}


def px(x):
    return x / W


def py(y):
    return 1 - y / H


fig = go.Figure()
layout = dict(width=W, height=H, autosize=False, margin=dict(l=0, r=0, t=0, b=0, pad=0),
              paper_bgcolor="white", plot_bgcolor="rgba(0,0,0,0)", showlegend=False,
              font=dict(family=FONT, color="#222"))

for i in range(1, 9):
    l, r, t, b = BOX[i]
    a = AXES[i]
    common = dict(ticks="inside", ticklen=5, tickwidth=1, tickcolor=AXC, mirror="allticks",
                  showline=True, linecolor=AXC, linewidth=1, showgrid=False, zeroline=False,
                  automargin=False,
                  tickfont=dict(family=FONT, size=17, color="#222"), tick0=0)
    xa = dict(common, domain=[px(l), min(px(r), 1.0)], range=a["xr"], dtick=a["xdt"],
              anchor=f"y{i}", minor=dict(dtick=a["xm"], tick0=0, ticks="inside", ticklen=3, tickcolor=AXC))
    if "xtv" in a:
        xa["tickmode"] = "array"
        xa["tickvals"] = a["xtv"]
    ya = dict(common, domain=[py(b), py(t)], range=a["yr"], dtick=a["ydt"],
              anchor=f"x{i}", minor=dict(dtick=a["ym"], tick0=0, ticks="inside", ticklen=3, tickcolor=AXC))
    layout["xaxis" if i == 1 else f"xaxis{i}"] = xa
    layout["yaxis" if i == 1 else f"yaxis{i}"] = ya


def axn(i):
    return ("x" if i == 1 else f"x{i}"), ("y" if i == 1 else f"y{i}")


def add_scatter_panel(i, bx, exp, u99, l99, u90, l90, pts):
    xa, ya = axn(i)
    fig.add_trace(go.Scatter(x=bx + bx[::-1], y=u99 + l99[::-1], fill="toself", fillcolor=YELLOW,
                             line=dict(width=0), mode="lines", xaxis=xa, yaxis=ya, hoverinfo="skip"))
    fig.add_trace(go.Scatter(x=bx + bx[::-1], y=u90 + l90[::-1], fill="toself", fillcolor=ORANGE,
                             line=dict(width=0), mode="lines", xaxis=xa, yaxis=ya, hoverinfo="skip"))
    fig.add_trace(go.Scatter(x=[p[0] for p in pts], y=[p[1] for p in pts], mode="markers",
                             marker=dict(symbol="circle-open", size=5.5, color="#111",
                                         line=dict(width=1.4, color="#111")),
                             xaxis=xa, yaxis=ya))
    fig.add_trace(go.Scatter(x=bx, y=exp, mode="lines", line=dict(color=RED, width=3, shape="spline"),
                             xaxis=xa, yaxis=ya))


def add_outlier_panel(i, xs, grn, grn_err, blk, blk_err):
    xa, ya = axn(i)
    fig.add_trace(go.Scatter(x=SHELL_RANGE, y=[REF_LEVEL, REF_LEVEL], mode="lines",
                             line=dict(color=HLINE, width=2), xaxis=xa, yaxis=ya))
    fig.add_trace(go.Scatter(x=xs, y=grn, mode="lines", line=dict(color=GREEN, width=1.5),
                             error_y=dict(type="data", array=grn_err, visible=True, color=GREEN,
                                          thickness=1, width=2.5),
                             xaxis=xa, yaxis=ya))
    fig.add_trace(go.Scatter(x=xs, y=blk, mode="lines", line=dict(color="#111", width=1.5),
                             error_y=dict(type="data", array=blk_err, visible=True, color="#222",
                                          thickness=1, width=2.5),
                             xaxis=xa, yaxis=ya))


add_scatter_panel(1, A_BX, A_EXP, A_99U, A_99L, A_90U, A_90L, A_PTS + A_CORE)
add_outlier_panel(2, XS_SMALL, A_GRN, A_GRN_ERR, A_BLK, A_BLK_ERR)
add_scatter_panel(3, B_BX, B_EXP, B_99U, B_99L, B_90U, B_90L, B_PTS + B_CORE)
add_outlier_panel(4, XS_SMALL, B_GRN, B_GRN_ERR, B_BLK, B_BLK_ERR)
add_scatter_panel(5, C_BX, C_EXP, C_99U, C_99L, C_90U, C_90L, C_PTS + C_CORE)
add_outlier_panel(6, XS_LARGE, C_GRN, C_GRN_ERR, C_BLK, C_BLK_ERR)
add_scatter_panel(7, D_BX, D_EXP, D_99U, D_99L, D_90U, D_90L, D_PTS + D_CORE)
add_outlier_panel(8, XS_LARGE, D_GRN, D_GRN_ERR, D_BLK, D_BLK_ERR)

ann = []


def text(s, x, y, size, color="#222", angle=0, xanchor="center"):
    ann.append(dict(text=s, x=px(x), y=py(y), xref="paper", yref="paper", showarrow=False,
                    xanchor=xanchor, yanchor="middle", textangle=angle,
                    font=dict(family=FONT, size=size, color=color)))


GRAY = "#8c8c8c"
text("acentric reflections", 322, 23, 22, GRAY)
text("centric reflections", 940, 23, 22, GRAY)
text("small molecules", 21, 165, 22, GRAY, angle=-90)
text("large molecules", 21, 492, 22, GRAY, angle=-90)

# y-axis titles (left panels are horizontal)
text("P<sub>a</sub>", 63, 166, 24)
text("P<sub>c</sub>", 672, 172, 24)
text("P<sub>a</sub>", 63, 492, 24)
text("P<sub>c</sub>", 672, 490, 24)
# y-axis titles (right panels, rotated)
text("P<sub>a</sub> outliers [%]", 349, 172, 21, angle=-90)
text("P<sub>c</sub> outliers [%]", 953, 172, 21, angle=-90)
text("P<sub>a</sub> outliers [%]", 349, 488, 21, angle=-90)
text("P<sub>c</sub> outliers [%]", 953, 488, 21, angle=-90)
# x-axis titles
text("n<sub>a</sub>/1000", 203, 319, 21)
text("n<sub>c</sub>/1000", 811, 318, 21)
text("n<sub>a</sub>/1000", 203, 637, 21)
text("n<sub>c</sub>/1000", 811, 637, 21)
text("Shell volume [Å<sup>-3</sup>]", 498, 321, 20)
text("Shell Volume [Å<sup>-3</sup>]", 1107, 321, 20)
text("Shell volume [Å<sup>-3</sup>]", 498, 634, 20)
text("Shell Volume [Å<sup>-3</sup>]", 1107, 634, 20)
# resolution labels
text("1.5±0.5Å", 255, 257, 25)
text("1.5±0.5Å", 860, 255, 25)
text("1.5±0.5Å", 252, 570, 25)
text("1.5±0.5Å", 857, 570, 25)
# code as (a)
text("code as (<i>a</i>)", 882, 92, 15)
text("code as (<i>a</i>)", 274, 402, 15)
text("code as (<i>a</i>)", 877, 411, 15)
# panel letters
text("(<i>a</i>)", 335, 342, 19)
text("(<i>b</i>)", 940, 342, 19)
text("(<i>c</i>)", 335, 659, 19)
text("(<i>d</i>)", 940, 659, 19)
# legend (a) left
text("90% confidence interval", 135, 80, 15, xanchor="left")
text("99% confidence interval", 135, 101, 15, xanchor="left")
text("expectation value", 135, 120, 15, xanchor="left")
# legend (a) right
text("small outliers", 497, 215, 15, xanchor="left")
text("large outliers", 497, 236, 15, xanchor="left")

shapes = [
    dict(type="rect", xref="paper", yref="paper", x0=px(108), x1=px(130), y0=py(87), y1=py(72),
         fillcolor=ORANGE, line=dict(width=0)),
    dict(type="rect", xref="paper", yref="paper", x0=px(108), x1=px(130), y0=py(108), y1=py(93),
         fillcolor=YELLOW, line=dict(width=0)),
    dict(type="line", xref="paper", yref="paper", x0=px(108), x1=px(130), y0=py(120), y1=py(120),
         line=dict(color=RED, width=3)),
    dict(type="line", xref="paper", yref="paper", x0=px(468), x1=px(483), y0=py(215), y1=py(215),
         line=dict(color=GREEN, width=2)),
    dict(type="line", xref="paper", yref="paper", x0=px(468), x1=px(483), y0=py(236), y1=py(236),
         line=dict(color="#111", width=2)),
]

layout["annotations"] = ann
layout["shapes"] = shapes
fig.update_layout(**layout)
fig.write_html("out.html", config={"displayModeBar": False},
               post_script="document.body.style.margin='0';document.body.style.overflow='hidden';")
